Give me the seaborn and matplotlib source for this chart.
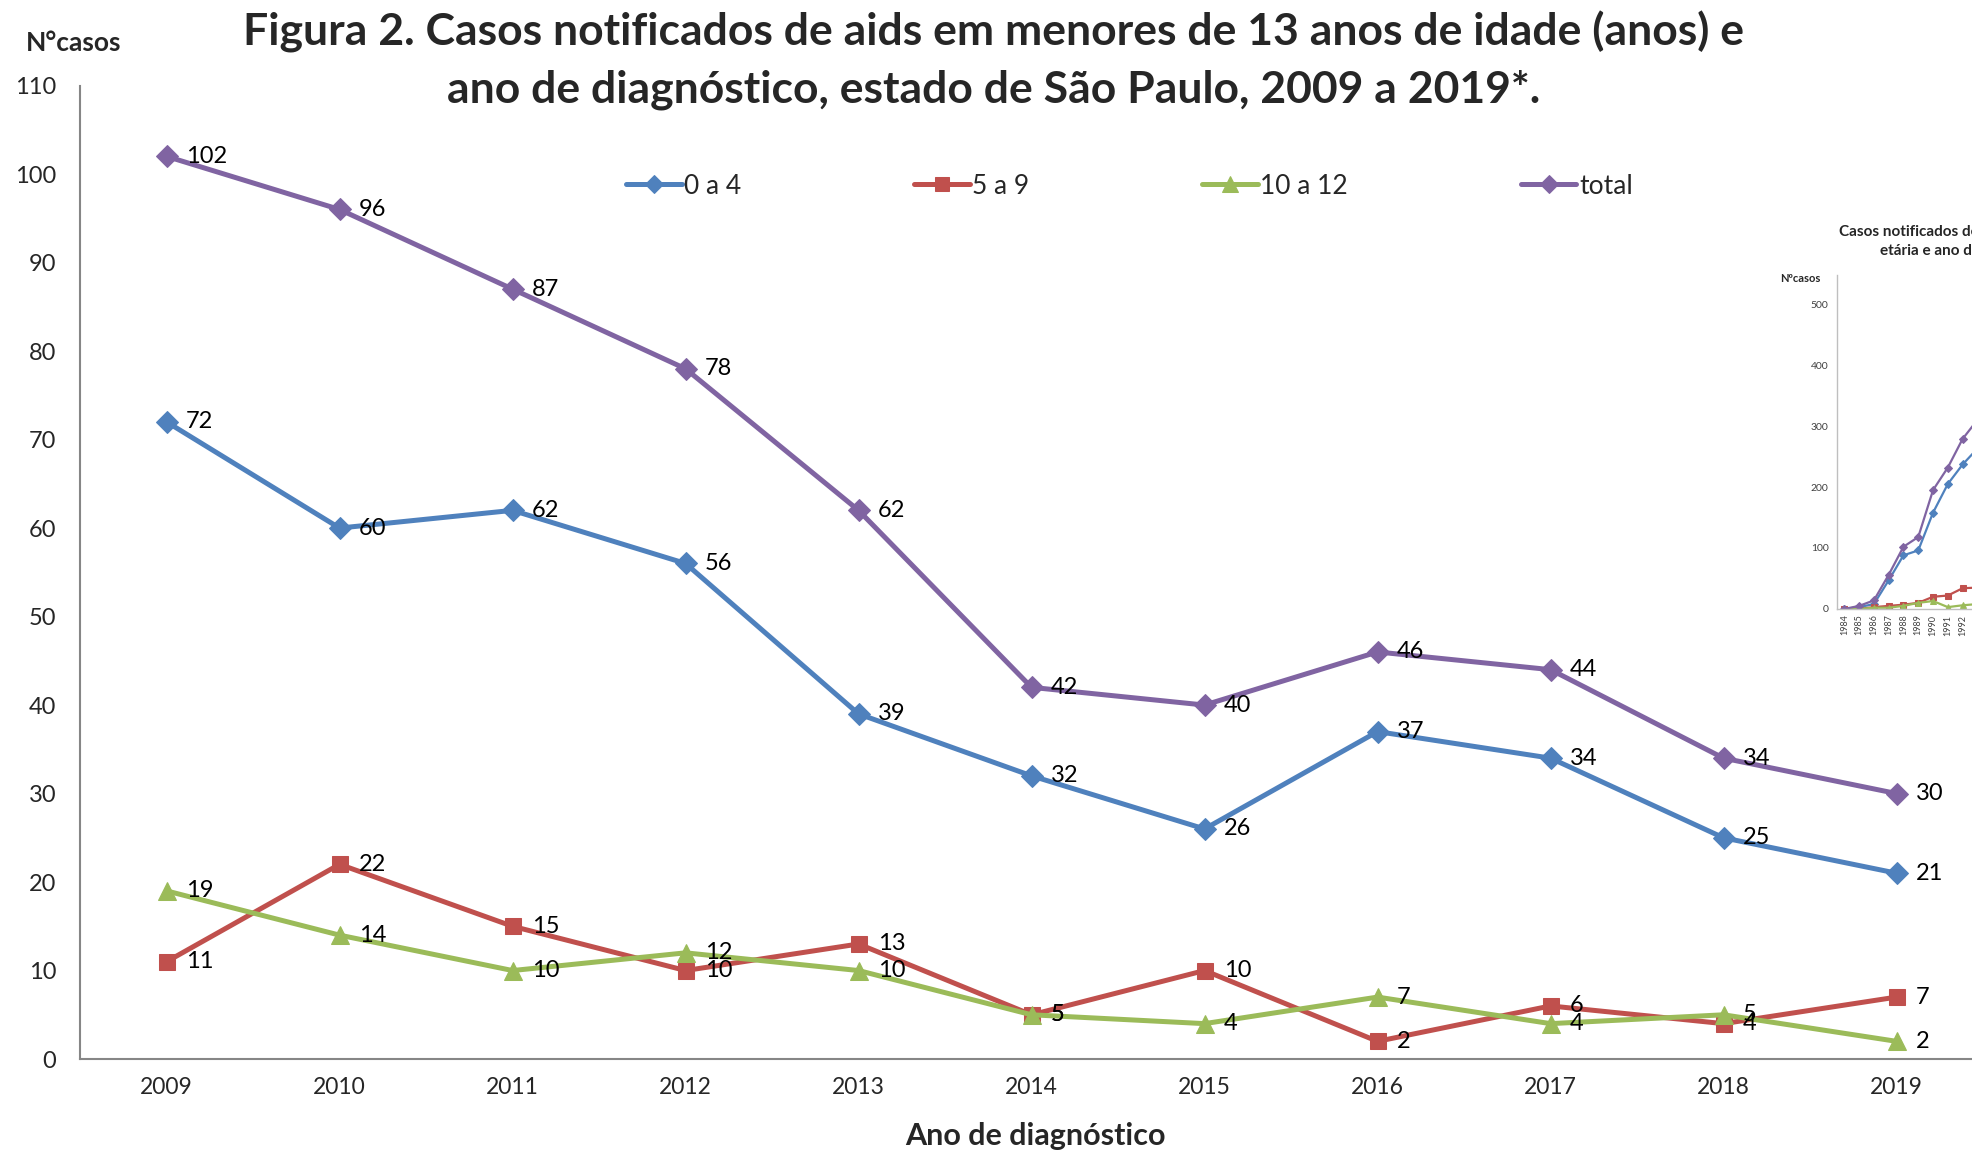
import numpy as np
import pandas as pd
import matplotlib
matplotlib.use("Agg")
import matplotlib.pyplot as plt
import seaborn as sns

# Dados do gráfico principal
anos = ["2009", "2010", "2011", "2012", "2013", "2014", "2015", "2016", "2017", "2018", "2019"]
faixas = ["0 a 4", "5 a 9", "10 a 12", "total"]
casos_0a4 = [72, 60, 62, 56, 39, 32, 26, 37, 34, 25, 21]
casos_5a9 = [11, 22, 15, 10, 13, 5, 10, 2, 6, 4, 7]
casos_10a12 = [19, 14, 10, 12, 10, 5, 4, 7, 4, 5, 2]
casos_total = [102, 96, 87, 78, 62, 42, 40, 46, 44, 34, 30]

# Dados do gráfico recortado à direita (1984 em diante)
anos_ins = [str(a) for a in range(1984, 2020)]
ins_0a4 = [0, 3, 8, 47, 88, 96, 158, 205, 237, 263]
ins_5a9 = [0, 0, 3, 5, 7, 10, 20, 22, 34, 35]
ins_10a12 = [0, 0, 2, 2, 5, 10, 13, 3, 6, 8]
ins_total = [0, 5, 14, 56, 102, 118, 195, 232, 279, 310]

cores = ["#4F81BD", "#C0504D", "#9BBB59", "#8064A2"]
marcadores = ["D", "s", "^", "D"]
tam_marc = [11, 12, 13, 11]

sns.set_style("white")
plt.rcParams['font.family'] = ['Lato', 'DejaVu Sans']

fig = plt.figure(figsize=(19.72, 11.52), dpi=100)
ax = fig.add_axes([0.0406, 0.0807, 0.965, 0.845])

series = [casos_0a4, casos_5a9, casos_10a12, casos_total]
pos = np.arange(len(anos))
df = pd.concat([pd.DataFrame({"pos": pos, "casos": s, "faixa": f}) for f, s in zip(faixas, series)])

handles = []
for f, cor, m, ms in zip(faixas, cores, marcadores, tam_marc):
    sub = df[df["faixa"] == f]
    sns.lineplot(data=sub, x="pos", y="casos", color=cor, marker=m, markersize=ms,
                 markeredgecolor=cor, linewidth=3.6, ax=ax, legend=False)
    handles.append(ax.lines[-1])
    for x, y in zip(sub["pos"], sub["casos"]):
        ax.annotate(str(y), (x, y), xytext=(14, 0), textcoords="offset points",
                    ha="left", va="center", fontsize=17, color="black")

ax.set_xlim(-0.5, len(anos) - 0.5)
ax.set_ylim(0, 110)
ax.set_yticks(range(0, 111, 10))
ax.set_xticks(pos)
ax.set_xticklabels(anos)
ax.set_xticks(np.arange(-0.5, len(anos), 1), minor=True)
ax.tick_params(axis="x", which="major", length=0, pad=13, labelsize=16.5, labelcolor="#262626")
ax.tick_params(axis="x", which="minor", length=6, width=1.2, color="#868686", direction="out")
ax.tick_params(axis="y", length=6, width=1.2, color="#868686", direction="out", pad=11,
               labelsize=17, labelcolor="#262626")
ax.set_xlabel("")
ax.set_ylabel("")
for lado in ["top", "right"]:
    ax.spines[lado].set_visible(False)
for lado in ["left", "bottom"]:
    ax.spines[lado].set_color("#868686")
    ax.spines[lado].set_linewidth(1.5)

ax.legend(handles, faixas, loc="center left", bbox_to_anchor=(0.3175, 0.8385),
          bbox_transform=fig.transFigure, ncol=4, frameon=False, fontsize=19,
          handlelength=2.1, handletextpad=0.1, columnspacing=6.55,
          borderpad=0, borderaxespad=0, markerscale=0.85)

fig.text(0.504, 0.972, "Figura 2. Casos notificados de aids em menores de 13 anos de idade (anos) e",
         ha="center", va="center", fontsize=32, fontweight="bold")
fig.text(0.504, 0.922, "ano de diagnóstico, estado de São Paulo, 2009 a 2019*.",
         ha="center", va="center", fontsize=32, fontweight="bold")
fig.text(0.0375, 0.963, "N°casos", ha="center", va="center", fontsize=19, fontweight="bold")
fig.text(0.525, 0.014, "Ano de diagnóstico", ha="center", va="center", fontsize=22, fontweight="bold")

# Gráfico recortado na borda direita
axi = fig.add_axes([0.9315, 0.4714, 0.27, 0.29])
pos_i = np.arange(len(ins_total))
for s, cor, m in zip([ins_0a4, ins_5a9, ins_10a12, ins_total], cores, marcadores):
    sns.lineplot(x=pos_i, y=s, color=cor, marker=m, markersize=4.5, markeredgecolor=cor,
                 linewidth=1.6, ax=axi, legend=False)
axi.set_xlim(-0.5, len(anos_ins) - 0.5)
axi.set_ylim(0, 548)
axi.set_yticks(range(0, 501, 100))
axi.set_xticks(np.arange(len(anos_ins)))
axi.set_xticklabels(anos_ins, rotation=90)
axi.tick_params(axis="y", labelsize=7.5, length=2, color="#868686", pad=4, labelcolor="#404040")
axi.tick_params(axis="x", labelsize=6.5, length=2, color="#868686", pad=2, labelcolor="#404040")
for lado in ["top", "right"]:
    axi.spines[lado].set_visible(False)
for lado in ["left", "bottom"]:
    axi.spines[lado].set_color("#bfbfbf")
    axi.spines[lado].set_linewidth(1)
fig.text(0.9325, 0.799, "Casos notificados de aids em menores de 13 anos segundo faixa",
         ha="left", va="center", fontsize=11, fontweight="bold")
fig.text(0.9535, 0.782, "etária e ano de diagnóstico",
         ha="left", va="center", fontsize=11, fontweight="bold")
fig.text(0.9025, 0.758, "Nºcasos", ha="left", va="center", fontsize=8, fontweight="bold")

fig.savefig("out.png", dpi=100)
